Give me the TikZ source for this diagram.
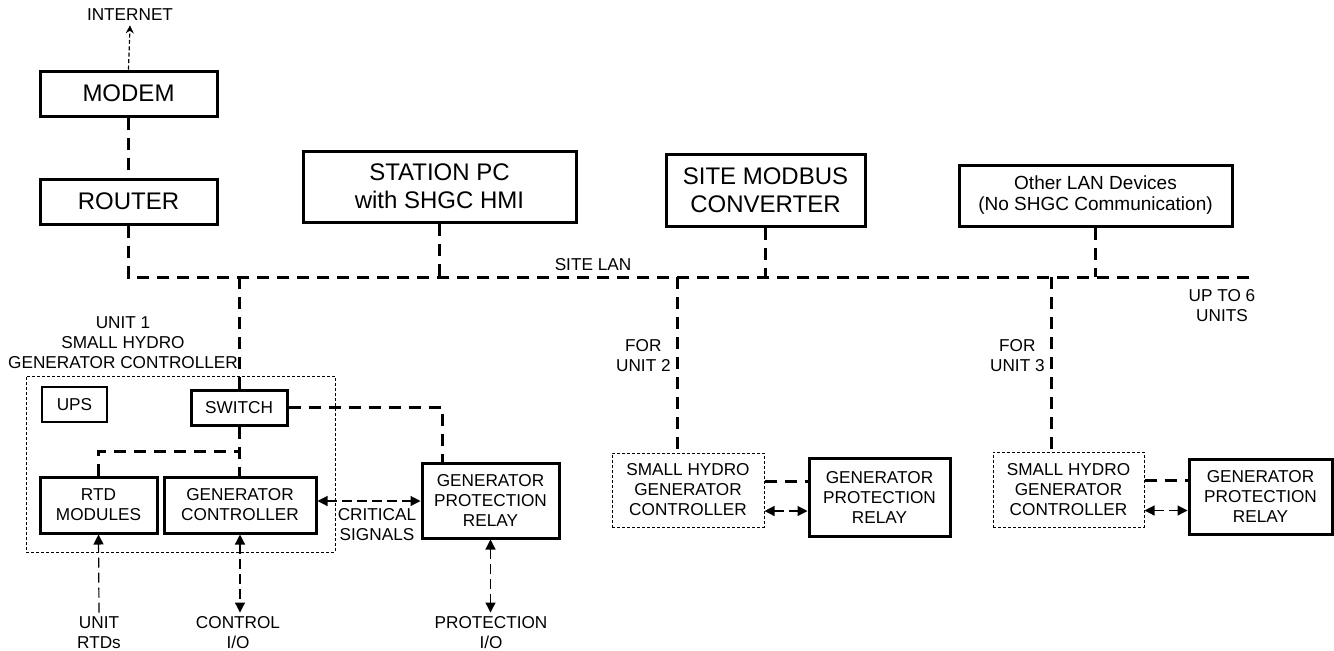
\documentclass[tikz,border=0pt]{standalone}
\usepackage{fontspec}
\setmainfont{Liberation Sans}
\usepackage{tikz}
\usetikzlibrary{arrows.meta, positioning, calc}

\begin{document}
\begin{tikzpicture}[
    x=0.5pt, y=-0.5pt,
    box/.style={draw, line width=1.5pt, align=center, inner sep=0pt, font=\fontsize{8.6}{10}\selectfont},
    bigbox/.style={box, font=\fontsize{12}{14}\selectfont},
    unitbox/.style={draw, line width=0.5pt, dash pattern=on 1.5pt off 1pt, align=center, inner sep=0pt, font=\fontsize{8.6}{10}\selectfont},
    lbl/.style={align=center, inner sep=2pt, font=\fontsize{8.6}{10}\selectfont},
    lan/.style={line width=1.5pt, dash pattern=on 6pt off 4pt},
    sig/.style={line width=0.6pt, dash pattern=on 5pt off 2.5pt},
    tip/.style={arrows={-Triangle[length=5pt, width=5pt]}},
    tips/.style={arrows={Triangle[length=5pt, width=5pt]-Triangle[length=5pt, width=5pt]}}
]
    \useasboundingbox (0,0) rectangle (1334,650);

    % site level
    \node[lbl] (inet) at (130,15) {INTERNET};
    \node[bigbox, minimum width=88.5pt, minimum height=22.5pt] (modem) at (128.5,93.5) {MODEM};
    \node[bigbox, minimum width=88.5pt, minimum height=22.5pt] (router) at (128.5,201.5) {ROUTER};
    \node[bigbox, minimum width=136.5pt, minimum height=35.5pt] (station) at (439.5,186.5) {STATION PC\\with SHGC HMI};
    \node[bigbox, minimum width=99.5pt, minimum height=36pt] (modbus) at (765.5,190) {SITE MODBUS\\CONVERTER};
    \node[box, minimum width=136.5pt, minimum height=30.5pt, font=\fontsize{9.5}{10.5}\selectfont] (other) at (1095.5,195.5) {Other LAN Devices\\(No SHGC Communication)};
    \coordinate (busend) at (1256,277);
    \node[lbl] (sitelan) at (593,265) {SITE LAN};
    \node[lbl] (upto) at (1222,306) {UP TO 6\\UNITS};

    % unit 1
    \node[lbl] (u1lbl) at (123,343) {UNIT 1\\SMALL HYDRO\\GENERATOR CONTROLLER};
    \node[unitbox, minimum width=154.5pt, minimum height=88pt] (unit1) at (180.5,464) {};
    \node[draw, line width=0.6pt, minimum width=32.5pt, minimum height=17.5pt, inner sep=0pt, font=\fontsize{8.6}{10}\selectfont] (ups) at (74.5,404.5) {UPS};
    \node[box, minimum width=48pt, minimum height=17.5pt] (switch) at (239,407.5) {SWITCH};
    \node[box, minimum width=58.5pt, minimum height=28pt] (rtd) at (98.5,505) {RTD\\MODULES};
    \node[box, minimum width=76pt, minimum height=28pt] (gc) at (240,505) {GENERATOR\\CONTROLLER};
    \node[box, minimum width=68.5pt, minimum height=37.5pt] (gpr1) at (490.5,500.5) {GENERATOR\\PROTECTION\\RELAY};
    \node[lbl] (crit) at (377,525) {CRITICAL\\SIGNALS};
    \node[lbl] (rtdio) at (99,633) {UNIT\\RTDs};
    \node[lbl] (ctrlio) at (238,633) {CONTROL\\I/O};
    \node[lbl] (protio) at (491,633) {PROTECTION\\I/O};

    % units 2 and 3
    \node[unitbox, minimum width=76pt, minimum height=37pt] (shgc2) at (688,490) {SMALL HYDRO\\GENERATOR\\CONTROLLER};
    \node[box, minimum width=70.5pt, minimum height=39pt] (gpr2) at (879.5,497) {GENERATOR\\PROTECTION\\RELAY};
    \node[unitbox, minimum width=75.5pt, minimum height=37.5pt] (shgc3) at (1068.5,489.5) {SMALL HYDRO\\GENERATOR\\CONTROLLER};
    \node[box, minimum width=71.5pt, minimum height=37.5pt] (gpr3) at (1260.5,496.5) {GENERATOR\\PROTECTION\\RELAY};
    \coordinate (tap2) at (677,277);
    \coordinate (tap3) at (1051,277);
    \node[lbl, anchor=east] (for2) at (675,356) {FOR\\UNIT 2};
    \node[lbl, anchor=east] (for3) at (1049,356) {FOR\\UNIT 3};

    % lan
    \draw[line width=0.6pt, dash pattern=on 2pt off 1.2pt, -{Stealth[length=4pt, width=4pt]}] (modem.north) -- (inet.south);
    \draw[lan] (modem) -- (router);
    \draw[lan] (router.south) |- (busend);
    \draw[lan] (station.south) -- (station.south |- busend);
    \draw[lan] (modbus.south) -- (modbus.south |- busend);
    \draw[lan] (other.south) -- (other.south |- busend);
    \draw[lan] (switch.north |- busend) -- (switch.north);
    \draw[lan] (switch.south) -- (switch.south |- gc.north);
    \draw[lan] (rtd.north) |- ($(switch.south)!.5!(switch.south |- gc.north)$);
    \draw[lan] (switch.east) -| ($(gpr1.north west)+(22,0)$);
    \draw[lan] (tap2) -- (tap2 |- shgc2.north);
    \draw[lan] (tap3) -- (tap3 |- shgc3.north);
    \draw[lan] ($(shgc2.east)+(0,-9)$) -- ($(shgc2.east -| gpr2.west)+(0,-9)$);
    \draw[lan] ($(shgc3.east)+(0,-9)$) -- ($(shgc3.east -| gpr3.west)+(0,-9)$);

    % signals
    \draw[sig, tips] ($(gc.east)+(0,-4)$) -- ($(gc.east -| gpr1.west)+(0,-4)$);
    \draw[sig, tip] (rtdio.north) -- (rtd.south);
    \draw[sig, tips] (gc.south) -- (ctrlio.north -| gc.south);
    \draw[sig, tips] (gpr1.south) -- (protio.north -| gpr1.south);
    \draw[sig, tips] ($(shgc2.east)+(0,21)$) -- ($(shgc2.east -| gpr2.west)+(0,21)$);
    \draw[sig, tips] ($(shgc3.east)+(0,21)$) -- ($(shgc3.east -| gpr3.west)+(0,21)$);
\end{tikzpicture}
\end{document}
